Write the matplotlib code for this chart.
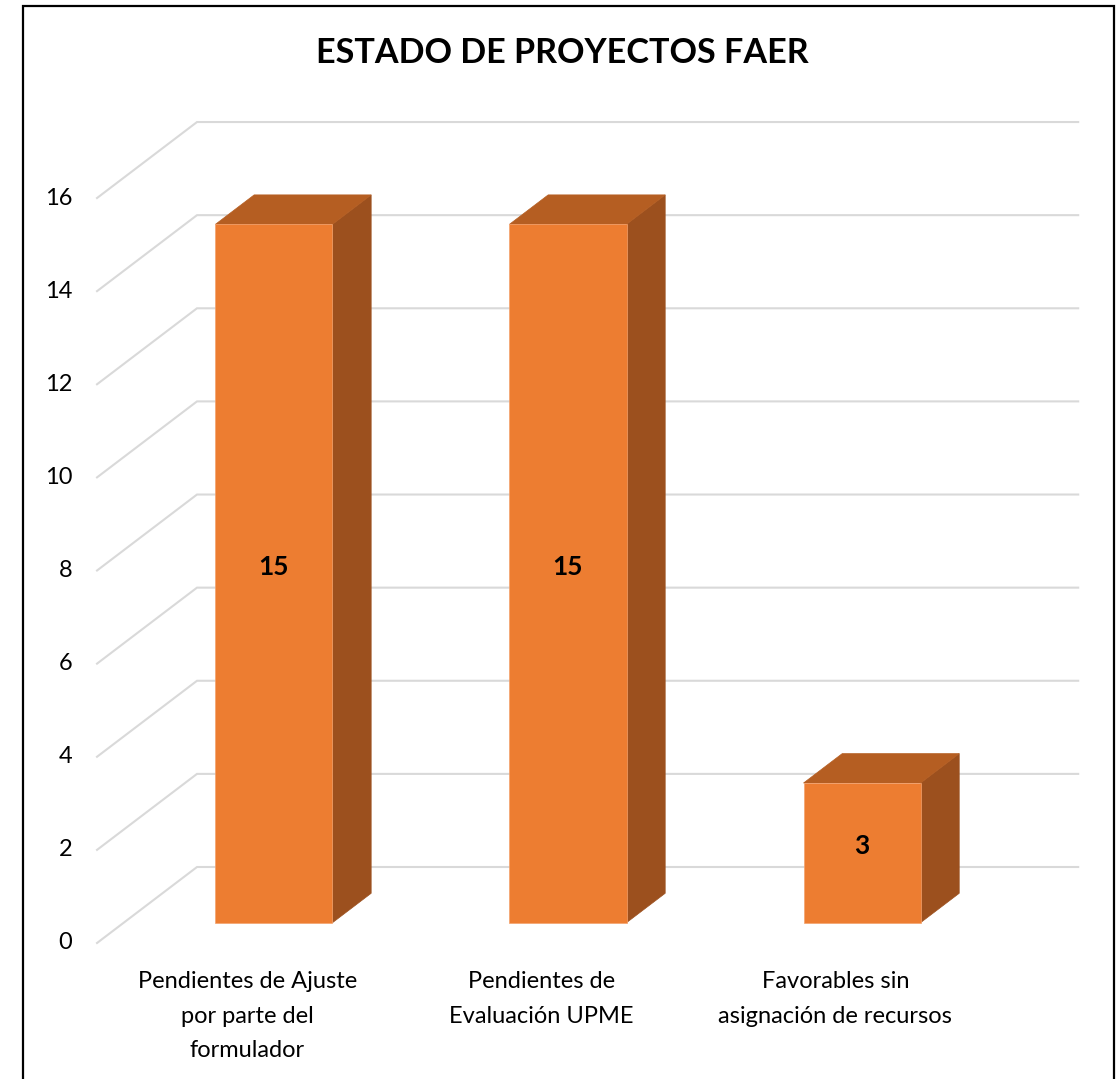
import matplotlib
matplotlib.use("Agg")
import matplotlib.pyplot as plt
from matplotlib.patches import Polygon, Rectangle

# datos
categorias = ["Pendientes de Ajuste\npor parte del\nformulador",
              "Pendientes de\nEvaluación UPME",
              "Favorables sin\nasignación de recursos"]
valores = [15, 15, 3]
ticks = list(range(0, 17, 2))
titulo = "ESTADO DE PROYECTOS FAER"

plt.rcParams['font.family'] = ['Lato', 'DejaVu Sans']

# fake 3d: depth vector in data units (x per depth, y per depth)
DX, DY = 0.34, 1.632
d0, d1 = 0.267, 0.654      # bar depth span
w = 0.199                  # half width of a bar
xl, xr = -0.511, 2.486     # grid extent

def P(x, v, d):
    return (x + DX * d, v + DY * d)

fig = plt.figure(figsize=(11.17, 10.79), dpi=100)
ax = fig.add_axes([0, 0, 1, 1])
ax.set_xlim(-0.841, 2.958)
ax.set_ylim(-2.921, 20.253)
ax.axis('off')

# gridlines: floor edge + back wall
for t in ticks:
    pts = [P(xl, t, 0), P(xl, t, 1), P(xr, t, 1)]
    ax.plot([p[0] for p in pts], [p[1] for p in pts], color='#D9D9D9', lw=1.5,
            solid_joinstyle='miter', zorder=1)
    x, y = P(xl - 0.085, t, 0)
    ax.text(x, y, str(t), ha='right', va='center', fontsize=17, color='black')

front_c, top_c, side_c = '#ED7D31', '#B55E22', '#9C501E'
for i, val in enumerate(valores):
    front = [P(i - w, 0, d0), P(i + w, 0, d0), P(i + w, val, d0), P(i - w, val, d0)]
    top = [P(i - w, val, d0), P(i + w, val, d0), P(i + w, val, d1), P(i - w, val, d1)]
    side = [P(i + w, 0, d0), P(i + w, 0, d1), P(i + w, val, d1), P(i + w, val, d0)]
    ax.add_patch(Polygon(side, closed=True, fc=side_c, ec=side_c, lw=0.5, zorder=2))
    ax.add_patch(Polygon(top, closed=True, fc=top_c, ec=top_c, lw=0.5, zorder=2))
    ax.add_patch(Polygon(front, closed=True, fc=front_c, ec='#F4A26C', lw=0.5, zorder=3))
    x, y = P(i, val / 2 + 0.15, d0)
    ax.text(x, y, str(val), ha='center', va='center', fontsize=19,
            fontweight='bold', color='black', zorder=4)
    ax.text(i, -0.6, categorias[i], ha='center', va='top', fontsize=17,
            linespacing=1.8, color='black')

fig.text(0.503, 0.951, titulo, ha='center', va='center', fontsize=24.6,
         fontweight='bold', color='black')

# chart border
fig.patches.append(Rectangle((23 / 1117, -0.01), (1114 - 23) / 1117, (1079 - 6) / 1079 + 0.01,
                             transform=fig.transFigure, fill=False, ec='black', lw=1.6))

fig.savefig('out.png', dpi=100, facecolor='white')
